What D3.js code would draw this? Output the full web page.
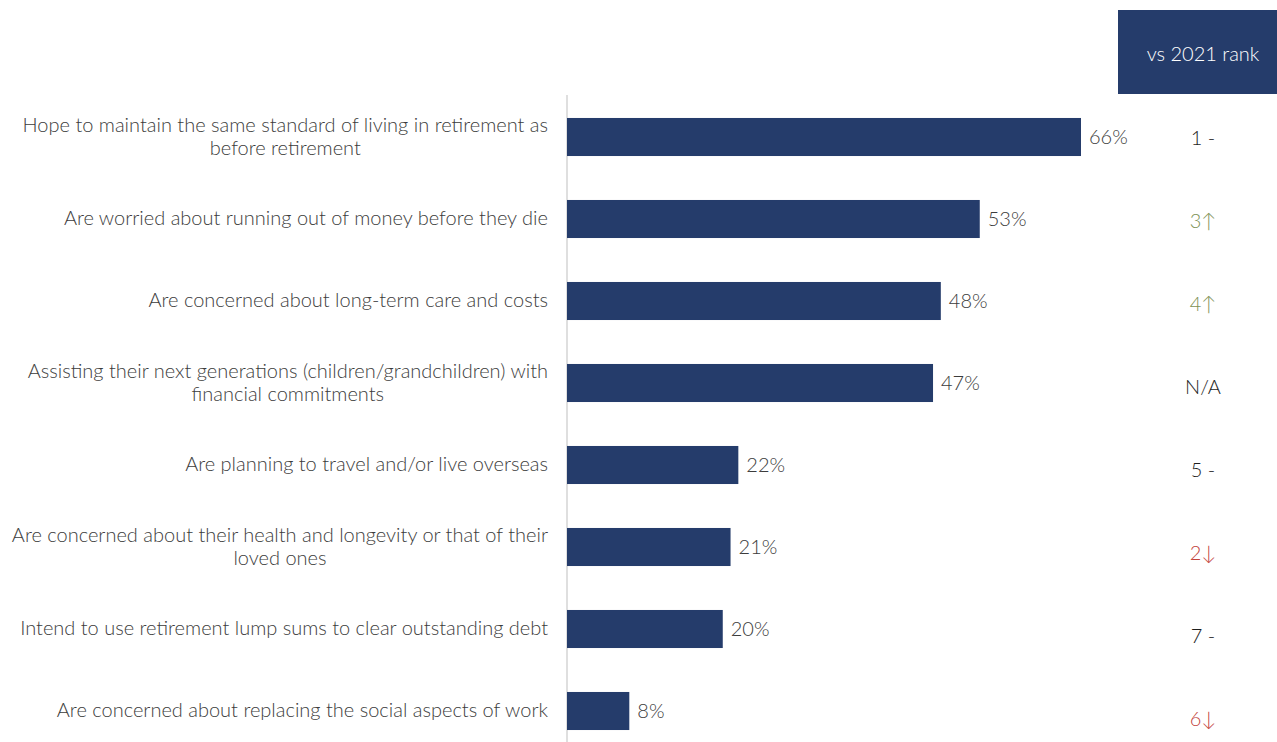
<!DOCTYPE html>
<html>
<head>
<meta charset="utf-8">
<script src="https://cdn.jsdelivr.net/npm/d3@7"></script>
<style>
  html, body { margin: 0; padding: 0; background: #fff; }
  svg { display: block; font-family: Lato, "Open Sans", sans-serif; font-weight: 300; }
</style>
</head>
<body>
<svg id="chart" width="1277" height="742"></svg>
<script>
// Retirement concerns: share of respondents, with rank change vs 2021
const categories = [
  ["Hope to maintain the same standard of living in retirement as", "before retirement"],
  ["Are worried about running out of money before they die"],
  ["Are concerned about long-term care and costs"],
  ["Assisting their next generations (children/grandchildren) with", "financial commitments"],
  ["Are planning to travel and/or live overseas"],
  ["Are concerned about their health and longevity or that of their", "loved ones"],
  ["Intend to use retirement lump sums to clear outstanding debt"],
  ["Are concerned about replacing the social aspects of work"]
];
const values = [66, 53, 48, 47, 22, 21, 20, 8];
const ranks = ["1 -", "3\u2191", "4\u2191", "N/A", "5 -", "2\u2193", "7 -", "6\u2193"];
const rankDirections = ["same", "up", "up", "none", "same", "down", "same", "down"];
const rankHeader = "vs 2021 rank";

const svg = d3.select("#chart");
const barColor = "#253c6b";
const textColor = "#3c3c3c";
const dirColor = { same: "#1e1e1e", none: "#1e1e1e", up: "#7d9154", down: "#c2433b" };
const fontSize = 20;

const axisX = 567;
const x = d3.scaleLinear().domain([0, 66]).range([axisX, 1081]);
const idx = d3.range(values.length);
const y = d3.scaleBand().domain(idx).range([96, 752]).paddingInner(0.536).paddingOuter(0.268);
const yRank = d3.scalePoint().domain(idx).range([137, 718]);

// vertical baseline
svg.append("line")
  .attr("x1", axisX).attr("x2", axisX)
  .attr("y1", 95).attr("y2", 742)
  .attr("stroke", "#d4d4d4").attr("stroke-width", 1.5);

// bars
svg.append("g").selectAll("rect").data(values).join("rect")
  .attr("x", axisX)
  .attr("y", (d, i) => y(i))
  .attr("width", d => x(d) - axisX)
  .attr("height", y.bandwidth())
  .attr("fill", barColor);

// value labels
svg.append("g").selectAll("text").data(values).join("text")
  .attr("x", d => x(d) + 8)
  .attr("y", (d, i) => y(i) + y.bandwidth() / 2 - 1)
  .attr("dominant-baseline", "central")
  .attr("font-size", fontSize)
  .attr("fill", textColor)
  .text(d => d + "%");

// category labels (multi-line labels are centred on their longest line)
const labelRight = 548;
const lineGap = 23;
const labels = svg.append("g");
categories.forEach((lines, i) => {
  const cy = y(i) + y.bandwidth() / 2 - 2;
  const t = labels.append("text")
    .attr("font-size", fontSize)
    .attr("fill", textColor)
    .attr("dominant-baseline", "central");
  lines.forEach((ln, j) => {
    t.append("tspan")
      .attr("y", cy + (j - (lines.length - 1) / 2) * lineGap)
      .text(ln);
  });
  if (lines.length === 1) {
    t.attr("text-anchor", "end");
    t.selectAll("tspan").attr("x", labelRight);
  } else {
    let maxW = 0;
    t.selectAll("tspan").each(function () { maxW = Math.max(maxW, this.getComputedTextLength()); });
    t.attr("text-anchor", "middle");
    t.selectAll("tspan").attr("x", labelRight - maxW / 2);
  }
});

// rank header box
const colX = 1203;
svg.append("rect")
  .attr("x", 1118).attr("y", 10)
  .attr("width", 159).attr("height", 84)
  .attr("fill", barColor);
svg.append("text")
  .attr("x", colX).attr("y", 53)
  .attr("text-anchor", "middle")
  .attr("dominant-baseline", "central")
  .attr("font-size", fontSize)
  .attr("fill", "#ffffff")
  .text(rankHeader);

// rank values
svg.append("g").selectAll("text").data(ranks).join("text")
  .attr("x", colX)
  .attr("y", (d, i) => yRank(i))
  .attr("text-anchor", "middle")
  .attr("dominant-baseline", "central")
  .attr("font-size", fontSize)
  .attr("fill", (d, i) => dirColor[rankDirections[i]])
  .text(d => d);
</script>
</body>
</html>
